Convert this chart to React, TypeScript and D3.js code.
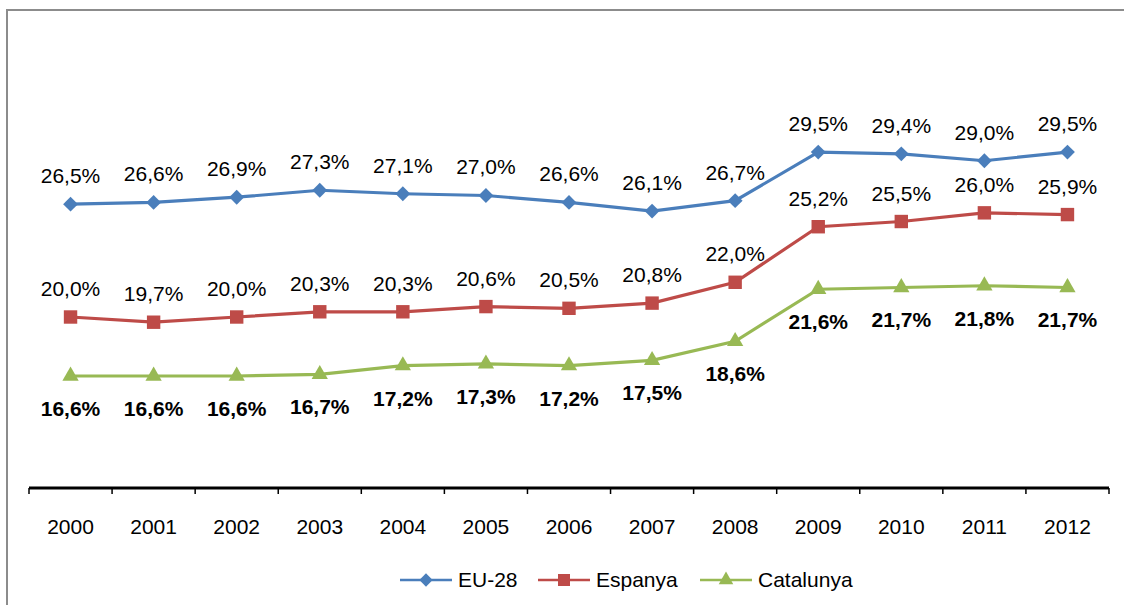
import * as d3 from 'd3';

const years = ['2000', '2001', '2002', '2003', '2004', '2005', '2006', '2007', '2008', '2009', '2010', '2011', '2012'];
const eu28 = [26.5, 26.6, 26.9, 27.3, 27.1, 27.0, 26.6, 26.1, 26.7, 29.5, 29.4, 29.0, 29.5];
const espanya = [20.0, 19.7, 20.0, 20.3, 20.3, 20.6, 20.5, 20.8, 22.0, 25.2, 25.5, 26.0, 25.9];
const catalunya = [16.6, 16.6, 16.6, 16.7, 17.2, 17.3, 17.2, 17.5, 18.6, 21.6, 21.7, 21.8, 21.7];

const series = [
  { name: 'EU-28', values: eu28, color: '#4A7EBB', marker: d3.symbolSquare, size: 110, rot: 45, bold: false, below: false },
  { name: 'Espanya', values: espanya, color: '#BE4B48', marker: d3.symbolSquare, size: 180, rot: 0, bold: false, below: false },
  { name: 'Catalunya', values: catalunya, color: '#98B954', marker: d3.symbolTriangle, size: 115, rot: 0, bold: true, below: true },
];

const fmt = (v: number) => v.toFixed(1).replace('.', ',') + '%';

export default function App() {
  const width = 1124;
  const height = 605;
  const x = d3.scaleBand<string>().domain(years).range([29, 1109]);
  const y = d3.scaleLinear().domain([10, 35]).range([490.6, 56.6]);
  const cx = (i: number) => (x(years[i]) ?? 0) + x.bandwidth() / 2;
  const line = d3.line<number>().x((_, i) => cx(i)).y((d) => y(d));
  const font = '"Liberation Sans", Arial, sans-serif';
  const legendX = [400, 538, 700];
  const axisY = 488;
  const fs = 21;

  return (
    <svg width={width} height={height} style={{ position: 'absolute', left: 0, top: 0, background: '#fff' }} fontFamily={font}>
      <rect x={7} y={10} width={1130} height={620} fill="#fff" stroke="#8c8c8c" strokeWidth={2} />
      {/* axis */}
      <line x1={29} x2={1109} y1={axisY} y2={axisY} stroke="#000" strokeWidth={3} />
      {[...years.map((yr) => x(yr) ?? 0), 1109].map((t, i) => (
        <line key={i} x1={t} x2={t} y1={axisY} y2={axisY + 6} stroke="#000" strokeWidth={1.5} />
      ))}
      {years.map((yr, i) => (
        <text key={yr} x={cx(i)} y={533.5} fontSize={fs} textAnchor="middle" fill="#000">{yr}</text>
      ))}
      {series.map((s) => (
        <g key={s.name}>
          <path d={line(s.values) ?? ''} fill="none" stroke={s.color} strokeWidth={3.2} />
          {s.values.map((v, i) => (
            <path
              key={i}
              d={d3.symbol().type(s.marker).size(s.size)() ?? ''}
              transform={`translate(${cx(i)},${y(v)}) rotate(${s.rot})`}
              fill={s.color}
            />
          ))}
          {s.values.map((v, i) => (
            <text
              key={'t' + i}
              x={cx(i)}
              y={s.below ? y(v) + 40 : y(v) - 21}
              fontSize={fs}
              fontWeight={s.bold ? 'bold' : 'normal'}
              textAnchor="middle"
              fill="#000"
            >
              {fmt(v)}
            </text>
          ))}
        </g>
      ))}
      {/* legend */}
      {series.map((s, i) => (
        <g key={'lg' + s.name} transform={`translate(${legendX[i]},580)`}>
          <line x1={0} x2={52} y1={0} y2={0} stroke={s.color} strokeWidth={2.5} />
          <path
            d={d3.symbol().type(s.marker).size(s.size * 0.8)() ?? ''}
            transform={`translate(26,0) rotate(${s.rot})`}
            fill={s.color}
          />
          <text x={58} y={7} fontSize={fs} fill="#000">{s.name}</text>
        </g>
      ))}
    </svg>
  );
}
